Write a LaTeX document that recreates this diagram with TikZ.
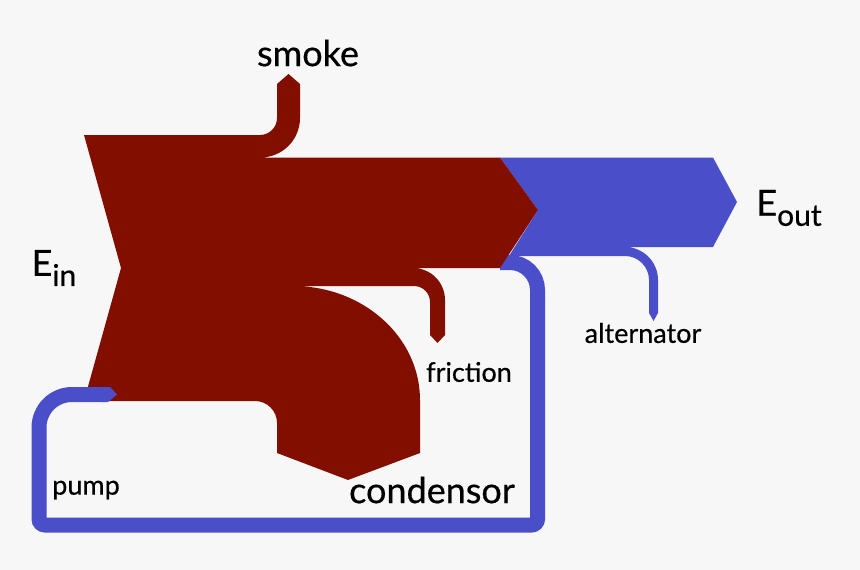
\documentclass[tikz,border=0pt]{standalone}
\usepackage{fontspec}
\setmainfont{Lato}[FakeBold = 0.5]

\definecolor{heat}{HTML}{820E00}
\definecolor{work}{HTML}{4A4FC9}
\definecolor{paper}{HTML}{F7F7F7}

\newcommand{\lowsub}[1]{\raisebox{-0.28em}{\fontsize{30}{30}\selectfont #1}}

\begin{document}
\begin{tikzpicture}[x = 1pt, y = 1pt,
	big/.style = {font = \fontsize{36}{36}\selectfont, text = black},
	small/.style = {font = \fontsize{27}{27}\selectfont, text = black}]

	% Background

	\fill [paper] (0, 0) rectangle (860, -570);

	% Return loop to the pump

	\draw [work, line width = 15] (500, -262.5) -- (510, -262.5)
		arc [start angle = 90, end angle = 0, radius = 27.5] -- (537.5, -519)
		arc [start angle = 0, end angle = -90, radius = 6] -- (45, -525)
		arc [start angle = 270, end angle = 180, radius = 6] -- (39, -427.5)
		arc [start angle = 180, end angle = 90, radius = 33] -- (104, -394.5);

	% Useful work and alternator branch

	\fill [work] (500, -157.5) -- (713, -157.5) -- (737, -202) -- (713, -247) -- (625, -247)
		arc [start angle = 90, end angle = 0, radius = 33] -- (658, -313) -- (653.5, -321) -- (649, -313) -- (649, -280)
		arc [start angle = 0, end angle = 90, radius = 24] -- (509, -256) -- (538, -210) -- cycle;

	% Heat input with smoke, friction and condensor losses

	\fill [heat] (84, -135) -- (260, -135)
		arc [start angle = -90, end angle = 0, radius = 17] -- (277, -84) -- (288.5, -74) -- (300, -84) -- (300, -118)
		arc [start angle = 0, end angle = -90, radius = 39.5] -- (500, -157.5) -- (538, -210) -- (500, -268) -- (413, -268)
		arc [start angle = 90, end angle = 0, radius = 32] -- (445, -335) -- (437.5, -343) -- (430, -335) -- (430, -302)
		arc [start angle = 0, end angle = 90, radius = 16] -- (293, -286)
		arc [start angle = 90, end angle = 0, x radius = 127, y radius = 114] -- (420, -453) -- (348, -480) -- (277, -453) -- (277, -423)
		arc [start angle = 0, end angle = 90, radius = 22] -- (84, -401) -- (121, -268) -- cycle;

	% Pump feeding back in

	\draw [work, line width = 15] (80, -394.5) -- (104, -394.5);
	\fill [work] (103, -387) -- (110, -387) -- (117, -394.5) -- (108, -402) -- (103, -402) -- cycle;

	% Labels

	\node [big] (smoke) at (308, -53) {smoke};
	\node [big] (ein) at (54, -268) {E\lowsub{in}};
	\node [big] (eout) at (789, -208) {E\lowsub{out}};
	\node [big] (condensor) at (432, -490) {condensor};
	\node [small] (alternator) at (643, -333) {alternator};
	\node [small] (friction) at (469, -372) {friction};
	\node [small] (pump) at (86, -490) {pump};

\end{tikzpicture}
\end{document}
